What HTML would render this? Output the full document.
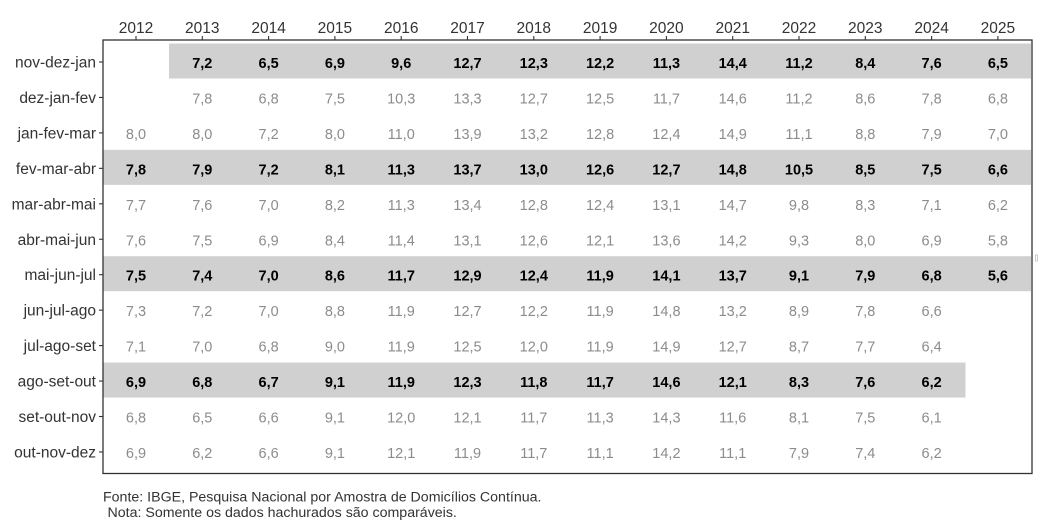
<!DOCTYPE html>
<html><head><meta charset="utf-8"><style>
html,body{margin:0;padding:0;background:#fff;}
svg{display:block;}
text{font-family:"Liberation Sans",Arial,sans-serif;}
.yr{font-size:15.5px;fill:#333;text-anchor:middle;}
.rl{font-size:15.5px;fill:#333;text-anchor:end;}
.g{font-size:14.5px;fill:#8c8c8c;text-anchor:middle;}
.b{font-size:14.5px;fill:#000;font-weight:bold;text-anchor:middle;}
.ft{font-size:14.2px;fill:#333;}
</style></head><body>
<svg width="1039" height="525" viewBox="0 0 1039 525" xmlns="http://www.w3.org/2000/svg">
<rect width="1039" height="525" fill="#fff"/>
<rect x="169" y="43.5" width="862" height="35" fill="#d0d0d0"/>
<rect x="103" y="149.85" width="928" height="35" fill="#d0d0d0"/>
<rect x="103" y="256.2" width="928" height="35" fill="#d0d0d0"/>
<rect x="103" y="362.55" width="862.5" height="35" fill="#d0d0d0"/>
<rect x="103" y="40" width="929" height="433.5" fill="none" stroke="#333" stroke-width="1.3"/>
<g stroke="#333" stroke-width="1.1">
<line x1="136" y1="36" x2="136" y2="40"/><line x1="202.3" y1="36" x2="202.3" y2="40"/><line x1="268.6" y1="36" x2="268.6" y2="40"/><line x1="334.9" y1="36" x2="334.9" y2="40"/><line x1="401.2" y1="36" x2="401.2" y2="40"/><line x1="467.5" y1="36" x2="467.5" y2="40"/><line x1="533.8" y1="36" x2="533.8" y2="40"/><line x1="600.1" y1="36" x2="600.1" y2="40"/><line x1="666.4" y1="36" x2="666.4" y2="40"/><line x1="732.7" y1="36" x2="732.7" y2="40"/><line x1="799" y1="36" x2="799" y2="40"/><line x1="865.3" y1="36" x2="865.3" y2="40"/><line x1="931.6" y1="36" x2="931.6" y2="40"/><line x1="997.9" y1="36" x2="997.9" y2="40"/>
<line x1="99" y1="62" x2="103" y2="62"/><line x1="99" y1="97.45" x2="103" y2="97.45"/><line x1="99" y1="132.9" x2="103" y2="132.9"/><line x1="99" y1="168.35" x2="103" y2="168.35"/><line x1="99" y1="203.8" x2="103" y2="203.8"/><line x1="99" y1="239.25" x2="103" y2="239.25"/><line x1="99" y1="274.7" x2="103" y2="274.7"/><line x1="99" y1="310.15" x2="103" y2="310.15"/><line x1="99" y1="345.6" x2="103" y2="345.6"/><line x1="99" y1="381.05" x2="103" y2="381.05"/><line x1="99" y1="416.5" x2="103" y2="416.5"/><line x1="99" y1="451.95" x2="103" y2="451.95"/>
</g>
<g>
<text class="yr" x="136" y="33">2012</text><text class="yr" x="202.3" y="33">2013</text><text class="yr" x="268.6" y="33">2014</text><text class="yr" x="334.9" y="33">2015</text><text class="yr" x="401.2" y="33">2016</text><text class="yr" x="467.5" y="33">2017</text><text class="yr" x="533.8" y="33">2018</text><text class="yr" x="600.1" y="33">2019</text><text class="yr" x="666.4" y="33">2020</text><text class="yr" x="732.7" y="33">2021</text><text class="yr" x="799" y="33">2022</text><text class="yr" x="865.3" y="33">2023</text><text class="yr" x="931.6" y="33">2024</text><text class="yr" x="997.9" y="33">2025</text>
</g>
<g>
<text class="rl" x="96" y="67.5">nov-dez-jan</text>
<text class="rl" x="96" y="102.95">dez-jan-fev</text>
<text class="rl" x="96" y="138.4">jan-fev-mar</text>
<text class="rl" x="96" y="173.85">fev-mar-abr</text>
<text class="rl" x="96" y="209.3">mar-abr-mai</text>
<text class="rl" x="96" y="244.75">abr-mai-jun</text>
<text class="rl" x="96" y="280.2">mai-jun-jul</text>
<text class="rl" x="96" y="315.65">jun-jul-ago</text>
<text class="rl" x="96" y="351.1">jul-ago-set</text>
<text class="rl" x="96" y="386.55">ago-set-out</text>
<text class="rl" x="96" y="422">set-out-nov</text>
<text class="rl" x="96" y="457.45">out-nov-dez</text>
</g>
<g>
<text class="b" x="202.3" y="68">7,2</text><text class="b" x="268.6" y="68">6,5</text><text class="b" x="334.9" y="68">6,9</text><text class="b" x="401.2" y="68">9,6</text><text class="b" x="467.5" y="68">12,7</text><text class="b" x="533.8" y="68">12,3</text><text class="b" x="600.1" y="68">12,2</text><text class="b" x="666.4" y="68">11,3</text><text class="b" x="732.7" y="68">14,4</text><text class="b" x="799" y="68">11,2</text><text class="b" x="865.3" y="68">8,4</text><text class="b" x="931.6" y="68">7,6</text><text class="b" x="997.9" y="68">6,5</text>
</g>
<g>
<text class="g" x="202.3" y="103.45">7,8</text><text class="g" x="268.6" y="103.45">6,8</text><text class="g" x="334.9" y="103.45">7,5</text><text class="g" x="401.2" y="103.45">10,3</text><text class="g" x="467.5" y="103.45">13,3</text><text class="g" x="533.8" y="103.45">12,7</text><text class="g" x="600.1" y="103.45">12,5</text><text class="g" x="666.4" y="103.45">11,7</text><text class="g" x="732.7" y="103.45">14,6</text><text class="g" x="799" y="103.45">11,2</text><text class="g" x="865.3" y="103.45">8,6</text><text class="g" x="931.6" y="103.45">7,8</text><text class="g" x="997.9" y="103.45">6,8</text>
</g>
<g>
<text class="g" x="136" y="138.9">8,0</text><text class="g" x="202.3" y="138.9">8,0</text><text class="g" x="268.6" y="138.9">7,2</text><text class="g" x="334.9" y="138.9">8,0</text><text class="g" x="401.2" y="138.9">11,0</text><text class="g" x="467.5" y="138.9">13,9</text><text class="g" x="533.8" y="138.9">13,2</text><text class="g" x="600.1" y="138.9">12,8</text><text class="g" x="666.4" y="138.9">12,4</text><text class="g" x="732.7" y="138.9">14,9</text><text class="g" x="799" y="138.9">11,1</text><text class="g" x="865.3" y="138.9">8,8</text><text class="g" x="931.6" y="138.9">7,9</text><text class="g" x="997.9" y="138.9">7,0</text>
</g>
<g>
<text class="b" x="136" y="174.35">7,8</text><text class="b" x="202.3" y="174.35">7,9</text><text class="b" x="268.6" y="174.35">7,2</text><text class="b" x="334.9" y="174.35">8,1</text><text class="b" x="401.2" y="174.35">11,3</text><text class="b" x="467.5" y="174.35">13,7</text><text class="b" x="533.8" y="174.35">13,0</text><text class="b" x="600.1" y="174.35">12,6</text><text class="b" x="666.4" y="174.35">12,7</text><text class="b" x="732.7" y="174.35">14,8</text><text class="b" x="799" y="174.35">10,5</text><text class="b" x="865.3" y="174.35">8,5</text><text class="b" x="931.6" y="174.35">7,5</text><text class="b" x="997.9" y="174.35">6,6</text>
</g>
<g>
<text class="g" x="136" y="209.8">7,7</text><text class="g" x="202.3" y="209.8">7,6</text><text class="g" x="268.6" y="209.8">7,0</text><text class="g" x="334.9" y="209.8">8,2</text><text class="g" x="401.2" y="209.8">11,3</text><text class="g" x="467.5" y="209.8">13,4</text><text class="g" x="533.8" y="209.8">12,8</text><text class="g" x="600.1" y="209.8">12,4</text><text class="g" x="666.4" y="209.8">13,1</text><text class="g" x="732.7" y="209.8">14,7</text><text class="g" x="799" y="209.8">9,8</text><text class="g" x="865.3" y="209.8">8,3</text><text class="g" x="931.6" y="209.8">7,1</text><text class="g" x="997.9" y="209.8">6,2</text>
</g>
<g>
<text class="g" x="136" y="245.25">7,6</text><text class="g" x="202.3" y="245.25">7,5</text><text class="g" x="268.6" y="245.25">6,9</text><text class="g" x="334.9" y="245.25">8,4</text><text class="g" x="401.2" y="245.25">11,4</text><text class="g" x="467.5" y="245.25">13,1</text><text class="g" x="533.8" y="245.25">12,6</text><text class="g" x="600.1" y="245.25">12,1</text><text class="g" x="666.4" y="245.25">13,6</text><text class="g" x="732.7" y="245.25">14,2</text><text class="g" x="799" y="245.25">9,3</text><text class="g" x="865.3" y="245.25">8,0</text><text class="g" x="931.6" y="245.25">6,9</text><text class="g" x="997.9" y="245.25">5,8</text>
</g>
<g>
<text class="b" x="136" y="280.7">7,5</text><text class="b" x="202.3" y="280.7">7,4</text><text class="b" x="268.6" y="280.7">7,0</text><text class="b" x="334.9" y="280.7">8,6</text><text class="b" x="401.2" y="280.7">11,7</text><text class="b" x="467.5" y="280.7">12,9</text><text class="b" x="533.8" y="280.7">12,4</text><text class="b" x="600.1" y="280.7">11,9</text><text class="b" x="666.4" y="280.7">14,1</text><text class="b" x="732.7" y="280.7">13,7</text><text class="b" x="799" y="280.7">9,1</text><text class="b" x="865.3" y="280.7">7,9</text><text class="b" x="931.6" y="280.7">6,8</text><text class="b" x="997.9" y="280.7">5,6</text>
</g>
<g>
<text class="g" x="136" y="316.15">7,3</text><text class="g" x="202.3" y="316.15">7,2</text><text class="g" x="268.6" y="316.15">7,0</text><text class="g" x="334.9" y="316.15">8,8</text><text class="g" x="401.2" y="316.15">11,9</text><text class="g" x="467.5" y="316.15">12,7</text><text class="g" x="533.8" y="316.15">12,2</text><text class="g" x="600.1" y="316.15">11,9</text><text class="g" x="666.4" y="316.15">14,8</text><text class="g" x="732.7" y="316.15">13,2</text><text class="g" x="799" y="316.15">8,9</text><text class="g" x="865.3" y="316.15">7,8</text><text class="g" x="931.6" y="316.15">6,6</text>
</g>
<g>
<text class="g" x="136" y="351.6">7,1</text><text class="g" x="202.3" y="351.6">7,0</text><text class="g" x="268.6" y="351.6">6,8</text><text class="g" x="334.9" y="351.6">9,0</text><text class="g" x="401.2" y="351.6">11,9</text><text class="g" x="467.5" y="351.6">12,5</text><text class="g" x="533.8" y="351.6">12,0</text><text class="g" x="600.1" y="351.6">11,9</text><text class="g" x="666.4" y="351.6">14,9</text><text class="g" x="732.7" y="351.6">12,7</text><text class="g" x="799" y="351.6">8,7</text><text class="g" x="865.3" y="351.6">7,7</text><text class="g" x="931.6" y="351.6">6,4</text>
</g>
<g>
<text class="b" x="136" y="387.05">6,9</text><text class="b" x="202.3" y="387.05">6,8</text><text class="b" x="268.6" y="387.05">6,7</text><text class="b" x="334.9" y="387.05">9,1</text><text class="b" x="401.2" y="387.05">11,9</text><text class="b" x="467.5" y="387.05">12,3</text><text class="b" x="533.8" y="387.05">11,8</text><text class="b" x="600.1" y="387.05">11,7</text><text class="b" x="666.4" y="387.05">14,6</text><text class="b" x="732.7" y="387.05">12,1</text><text class="b" x="799" y="387.05">8,3</text><text class="b" x="865.3" y="387.05">7,6</text><text class="b" x="931.6" y="387.05">6,2</text>
</g>
<g>
<text class="g" x="136" y="422.5">6,8</text><text class="g" x="202.3" y="422.5">6,5</text><text class="g" x="268.6" y="422.5">6,6</text><text class="g" x="334.9" y="422.5">9,1</text><text class="g" x="401.2" y="422.5">12,0</text><text class="g" x="467.5" y="422.5">12,1</text><text class="g" x="533.8" y="422.5">11,7</text><text class="g" x="600.1" y="422.5">11,3</text><text class="g" x="666.4" y="422.5">14,3</text><text class="g" x="732.7" y="422.5">11,6</text><text class="g" x="799" y="422.5">8,1</text><text class="g" x="865.3" y="422.5">7,5</text><text class="g" x="931.6" y="422.5">6,1</text>
</g>
<g>
<text class="g" x="136" y="457.95">6,9</text><text class="g" x="202.3" y="457.95">6,2</text><text class="g" x="268.6" y="457.95">6,6</text><text class="g" x="334.9" y="457.95">9,1</text><text class="g" x="401.2" y="457.95">12,1</text><text class="g" x="467.5" y="457.95">11,9</text><text class="g" x="533.8" y="457.95">11,7</text><text class="g" x="600.1" y="457.95">11,1</text><text class="g" x="666.4" y="457.95">14,2</text><text class="g" x="732.7" y="457.95">11,1</text><text class="g" x="799" y="457.95">7,9</text><text class="g" x="865.3" y="457.95">7,4</text><text class="g" x="931.6" y="457.95">6,2</text>
</g>
<text class="ft" x="103" y="501.5">Fonte: IBGE, Pesquisa Nacional por Amostra de Domicílios Contínua.</text>
<text class="ft" x="107.5" y="517">Nota: Somente os dados hachurados são comparáveis.</text>
<rect x="1035.5" y="255" width="2" height="6" fill="none" stroke="#b8c4d0" stroke-width="0.8"/>
</svg>
</body></html>
